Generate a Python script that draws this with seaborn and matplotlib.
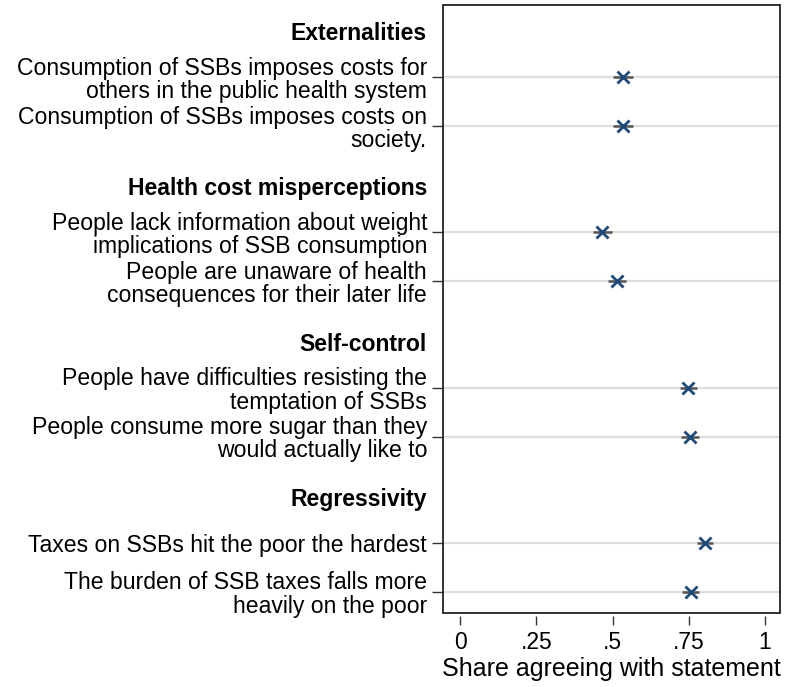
import matplotlib
matplotlib.use('Agg')
import matplotlib.pyplot as plt
import seaborn as sns
import pandas as pd
from matplotlib.patches import Rectangle

groups = ['Externalities', 'Health cost misperceptions', 'Self-control', 'Regressivity']
statements = [
    'Consumption of SSBs imposes costs for\nothers in the public health system',
    'Consumption of SSBs imposes costs on\nsociety.',
    'People lack information about weight\nimplications of SSB consumption',
    'People are unaware of health\nconsequences for their later life',
    'People have difficulties resisting the\ntemptation of SSBs',
    'People consume more sugar than they\nwould actually like to',
    'Taxes on SSBs hit the poor the hardest',
    'The burden of SSB taxes falls more\nheavily on the poor',
]
statement_group = [0, 0, 1, 1, 2, 2, 3, 3]
share = [0.535, 0.535, 0.467, 0.514, 0.749, 0.754, 0.803, 0.756]
ci_low = [0.503, 0.503, 0.436, 0.484, 0.722, 0.726, 0.776, 0.728]
ci_high = [0.567, 0.567, 0.498, 0.545, 0.776, 0.782, 0.830, 0.784]

x_ticks = [0, 0.25, 0.5, 0.75, 1]
x_tick_labels = ['0', '.25', '.5', '.75', '1']

# layout of rows: header, then its items, with a bit more room before the next header
group_step = 3.17
header_pos = [i * group_step for i in range(len(groups))]
item_pos = []
seen = {}
for g in statement_group:
    k = seen.get(g, 0)
    item_pos.append(header_pos[g] + 0.94 + k)
    seen[g] = k + 1

df = pd.DataFrame({'statement': statements, 'share': share,
                   'low': ci_low, 'high': ci_high, 'pos': item_pos})

sns.set_style('white')
plt.rcParams['font.family'] = ['Liberation Sans', 'DejaVu Sans']
plt.rcParams['text.color'] = 'black'
plt.rcParams['axes.labelcolor'] = 'black'
plt.rcParams['xtick.color'] = 'black'
plt.rcParams['ytick.color'] = 'black'

fig = plt.figure(figsize=(7.87, 6.87), dpi=100)
ax = fig.add_axes([0.563, 0.1077, 0.4287, 0.885])

for y in df['pos']:
    ax.axhline(y, color='#dedede', lw=1.6, zorder=0)

ax.hlines(df['pos'], df['low'], df['high'], color='#555555', lw=1.8, zorder=2)
sns.scatterplot(data=df, x='share', y='pos', marker='x', s=75, color='#1d4a78',
                linewidth=2.0, ax=ax, zorder=3, legend=False)

ax.set_xlim(-0.0557, 1.0508)
ax.set_ylim(11.88, -0.53)

# y ticks: headers (bold, no tick) and statements
ticks = list(header_pos) + list(df['pos'])
labels = list(groups) + list(df['statement'])
ax.set_yticks(ticks)
ax.set_yticklabels(labels, linespacing=1.02)
ax.tick_params(axis='y', direction='out', length=8, width=1.0, color='#333333',
               pad=3.5, left=True, labelsize=16.6, labelcolor='black')
for i, t in enumerate(ax.yaxis.get_major_ticks()):
    if i < len(groups):
        t.tick1line.set_visible(False)
        t.label1.set_fontweight('bold')

ax.set_xticks(x_ticks)
ax.set_xticklabels(x_tick_labels)
ax.tick_params(axis='x', direction='out', length=6.5, width=1.0, color='#333333',
               pad=4, bottom=True, labelsize=16.5, labelcolor='black')
ax.set_xlabel('Share agreeing with statement', fontsize=18, labelpad=2)
ax.set_ylabel('')

for s in ax.spines.values():
    s.set_visible(False)
ax.spines['bottom'].set_position(('outward', 2.5))
ax.add_patch(Rectangle((0, 0), 1, 1, transform=ax.transAxes, fill=False,
                       edgecolor='#222222', lw=1.3, clip_on=False, zorder=5))

fig.savefig('out.png', dpi=100)
